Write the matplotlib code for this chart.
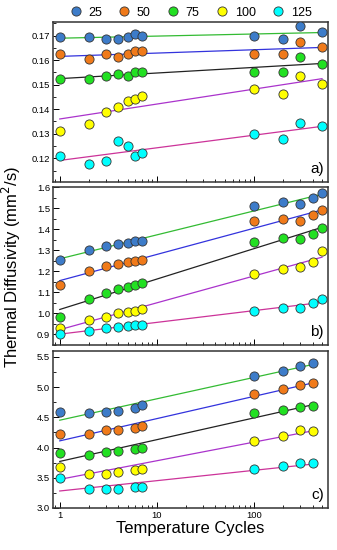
import numpy as np
import matplotlib
matplotlib.use("Agg")
import matplotlib.pyplot as plt
from matplotlib.ticker import MultipleLocator, FixedLocator, FixedFormatter, NullFormatter

plt.rcParams['font.family'] = ['Liberation Sans', 'DejaVu Sans']

# Legend labels and colours
labels = ["25", "50", "75", "100", "125"]
marker_colors = ["#3d7cc9", "#f07a1a", "#22e022", "#ffff00", "#00ffff"]
line_colors = ["#33bb33", "#3333dd", "#222222", "#aa33cc", "#cc3399"]

# Panel a)
cycles_a = [1, 2, 3, 4, 5, 6, 7, 100, 200, 300, 500]
panel_a = [
    [0.1695, 0.1695, 0.1685, 0.1685, 0.1695, 0.1707, 0.1697, 0.1697, 0.1684, 0.1737, 0.1715],
    [0.1625, 0.1603, 0.1625, 0.1614, 0.1625, 0.1635, 0.1635, 0.1625, 0.1625, 0.1675, 0.1655],
    [0.1523, 0.1523, 0.1534, 0.1545, 0.1534, 0.1553, 0.1553, 0.1553, 0.1553, 0.1614, 0.1584],
    [0.131, 0.134, 0.139, 0.141, 0.1433, 0.1443, 0.1452, 0.1482, 0.1463, 0.1534, 0.1504],
    [0.121, 0.1178, 0.1189, 0.127, 0.125, 0.121, 0.122, 0.130, 0.128, 0.1342, 0.1331],
]

# Panel b)
cycles_b = [1, 2, 3, 4, 5, 6, 7, 100, 200, 300, 400, 500]
panel_b = [
    [1.254, 1.302, 1.319, 1.329, 1.335, 1.342, 1.343, 1.512, 1.527, 1.519, 1.549, 1.571],
    [1.134, 1.201, 1.224, 1.236, 1.244, 1.248, 1.254, 1.439, 1.447, 1.439, 1.468, 1.493],
    [0.984, 1.066, 1.096, 1.115, 1.126, 1.133, 1.142, 1.340, 1.359, 1.354, 1.377, 1.407],
    [0.930, 0.967, 0.984, 1.000, 1.008, 1.013, 1.021, 1.185, 1.211, 1.222, 1.244, 1.295],
    [0.903, 0.917, 0.929, 0.937, 0.940, 0.943, 0.946, 1.011, 1.027, 1.024, 1.047, 1.069],
]

# Panel c)
cycles_c = [1, 2, 3, 4, 6, 7, 100, 200, 300, 400]
panel_c = [
    [4.592, 4.570, 4.586, 4.608, 4.658, 4.707, 5.188, 5.265, 5.347, 5.396],
    [4.220, 4.231, 4.286, 4.291, 4.318, 4.362, 4.893, 4.969, 5.041, 5.062],
    [3.914, 3.881, 3.930, 3.936, 3.974, 3.985, 4.565, 4.619, 4.674, 4.691],
    [3.678, 3.558, 3.563, 3.602, 3.635, 3.646, 4.110, 4.198, 4.286, 4.280],
    [3.498, 3.312, 3.312, 3.312, 3.339, 3.339, 3.651, 3.689, 3.739, 3.739],
]

panels = [
    (cycles_a, panel_a, (0.1103, 0.1755), 0.01, "a)", "{:.2f}"),
    (cycles_b, panel_b, (0.85, 1.6), 0.1, "b)", "{:.1f}"),
    (cycles_c, panel_c, (3.0, 5.6), 0.5, "c)", "{:.1f}"),
]

fig = plt.figure(figsize=(3.37, 5.5), dpi=100)
boxes = [(0.157, 0.669, 0.816, 0.291),
         (0.157, 0.373, 0.816, 0.287),
         (0.157, 0.0764, 0.816, 0.2856)]

for i, (x, series, ylim, step, tag, fmt) in enumerate(panels):
    ax = fig.add_axes(boxes[i])
    x = np.array(x, dtype=float)
    for vals, mc, lc, lab in zip(series, marker_colors, line_colors, labels):
        vals = np.array(vals)
        # linear fit against log10 of the cycle number
        k, b = np.polyfit(np.log10(x), vals, 1)
        xf = np.array([x[0], x[-1]])
        ax.plot(xf, k * np.log10(xf) + b, color=lc, lw=0.9, zorder=2)
        ax.plot(x, vals, "o", ms=6.6, mfc=mc, mec="#333333", mew=0.6,
                label=lab, zorder=3)
    ax.set_xscale("log")
    ax.set_xlim(0.85, 575)
    ax.set_ylim(*ylim)
    ax.yaxis.set_major_locator(MultipleLocator(step))
    ax.yaxis.set_minor_locator(MultipleLocator(step / 2))
    ax.yaxis.set_major_formatter(matplotlib.ticker.FuncFormatter(lambda v, p, f=fmt: f.format(v)))
    ax.tick_params(which="both", direction="in", top=False, right=False,
                   labelsize=6.8, pad=2)
    ax.tick_params(which="major", length=4, width=0.7)
    ax.tick_params(which="minor", length=2.2, width=0.6)
    for s in ax.spines.values():
        s.set_linewidth(1.1)
        s.set_color("#333333")
    ax.text(0.985, 0.04, tag, transform=ax.transAxes, ha="right", va="bottom",
            fontsize=11)
    if i < 2:
        ax.xaxis.set_major_formatter(NullFormatter())
    else:
        ax.xaxis.set_major_locator(FixedLocator([1, 10, 100]))
        ax.xaxis.set_major_formatter(FixedFormatter(["1", "10", "100"]))
        ax.set_xlabel("Temperature Cycles", fontsize=12, labelpad=1)
    ax.xaxis.set_minor_formatter(NullFormatter())
    if i == 0:
        handles, hl = ax.get_legend_handles_labels()

fig.legend(handles, hl, loc="center", bbox_to_anchor=(0.565, 0.977), ncol=5,
           frameon=False, fontsize=9, handletextpad=0.5, columnspacing=1.3,
           handlelength=1.0, borderpad=0.1)
fig.text(0.035, 0.515, "Thermal Diffusivity (mm$^2$/s)", rotation=90,
         ha="center", va="center", fontsize=12)

fig.savefig("out.png", dpi=100)
